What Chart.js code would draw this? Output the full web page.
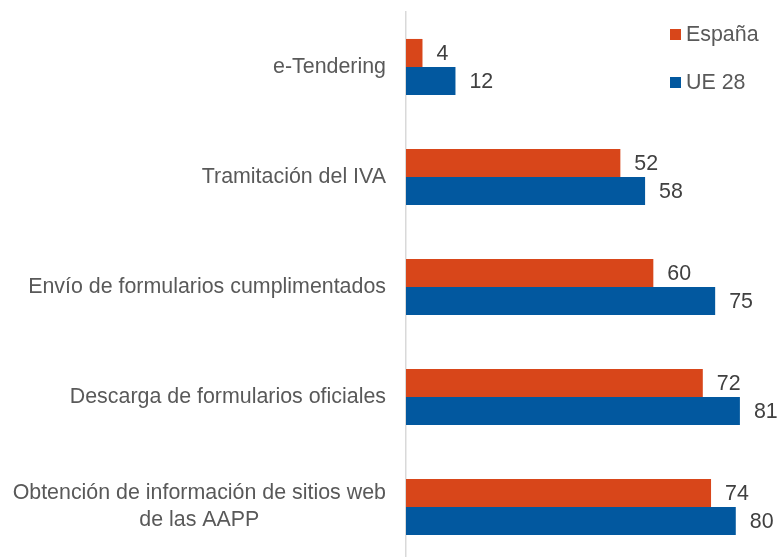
<!DOCTYPE html>
<html>
<head>
<meta charset="utf-8">
<script src="https://cdn.jsdelivr.net/npm/chart.js@4.4.1/dist/chart.umd.min.js"></script>
<style>
  html, body { margin: 0; padding: 0; background: #fff; overflow: hidden; }
  #wrap { width: 777px; height: 562px; }
</style>
</head>
<body>
<div id="wrap"><canvas id="myChart" width="777" height="562"></canvas></div>
<script>
// Chart data
const categories = [
  'e-Tendering',
  'Tramitación del IVA',
  'Envío de formularios cumplimentados',
  'Descarga de formularios oficiales',
  ['Obtención de información de sitios web', 'de las AAPP']
];
const espana = [4, 52, 60, 72, 74];
const ue28 = [12, 58, 75, 81, 80];
const seriesNames = ['España', 'UE 28'];
const xMax = 90;

const FONT = '21.4px "Liberation Sans", Arial, sans-serif';
const colors = ['#D8461A', '#02589F'];

// category labels, right aligned, multi-line blocks centered
const categoryLabels = {
  id: 'categoryLabels',
  afterDraw(chart) {
    const ctx = chart.ctx;
    const y = chart.scales.y;
    const right = 386;
    const lineH = 27;
    ctx.save();
    ctx.font = FONT;
    ctx.fillStyle = '#595959';
    ctx.textAlign = 'center';
    ctx.textBaseline = 'middle';
    chart.data.labels.forEach(function(lbl, i) {
      const lines = Array.isArray(lbl) ? lbl : [lbl];
      let w = 0;
      lines.forEach(function(l) { w = Math.max(w, ctx.measureText(l).width); });
      const cx = right - w / 2;
      const cy = y.getPixelForValue(i);
      lines.forEach(function(l, k) {
        ctx.fillText(l, cx, cy + (k - (lines.length - 1) / 2) * lineH);
      });
    });
    ctx.restore();
  }
};

// value labels right of each bar
const valueLabels = {
  id: 'valueLabels',
  afterDatasetsDraw(chart) {
    const ctx = chart.ctx;
    ctx.save();
    ctx.font = FONT;
    ctx.fillStyle = '#404040';
    ctx.textAlign = 'left';
    ctx.textBaseline = 'middle';
    chart.data.datasets.forEach(function(ds, d) {
      chart.getDatasetMeta(d).data.forEach(function(bar, i) {
        ctx.fillText(ds.data[i], bar.x + 14, bar.y + 1);
      });
    });
    ctx.restore();
  }
};

// legend in the top right corner
const cornerLegend = {
  id: 'cornerLegend',
  afterDraw(chart) {
    const ctx = chart.ctx;
    ctx.save();
    ctx.font = FONT;
    ctx.textAlign = 'left';
    ctx.textBaseline = 'middle';
    chart.data.datasets.forEach(function(ds, d) {
      const cy = 35 + d * 48;
      ctx.fillStyle = ds.backgroundColor;
      ctx.fillRect(670, cy - 6, 11, 11);
      ctx.fillStyle = '#595959';
      ctx.fillText(ds.label, 686, cy);
    });
    ctx.restore();
  }
};

function createChart() {
  const ctx = document.getElementById('myChart').getContext('2d');
  return new Chart(ctx, {
    type: 'bar',
    data: {
      labels: categories,
      datasets: [
        { label: seriesNames[0], data: espana, backgroundColor: colors[0] },
        { label: seriesNames[1], data: ue28, backgroundColor: colors[1] }
      ]
    },
    options: {
      indexAxis: 'y',
      responsive: false,
      animation: false,
      layout: { padding: { top: 12, right: 0, bottom: 0, left: 0 } },
      datasets: {
        bar: { categoryPercentage: 0.51, barPercentage: 1.0 }
      },
      scales: {
        x: {
          display: false,
          min: 0,
          max: xMax
        },
        y: {
          grid: { display: false },
          ticks: { display: false },
          border: { display: true, color: '#D9D9D9', width: 1.5 },
          afterFit(scale) { scale.width = 406; }
        }
      },
      plugins: {
        legend: { display: false },
        tooltip: { enabled: false }
      }
    },
    plugins: [categoryLabels, valueLabels, cornerLegend]
  });
}

let myChart = createChart();
</script>
</body>
</html>
